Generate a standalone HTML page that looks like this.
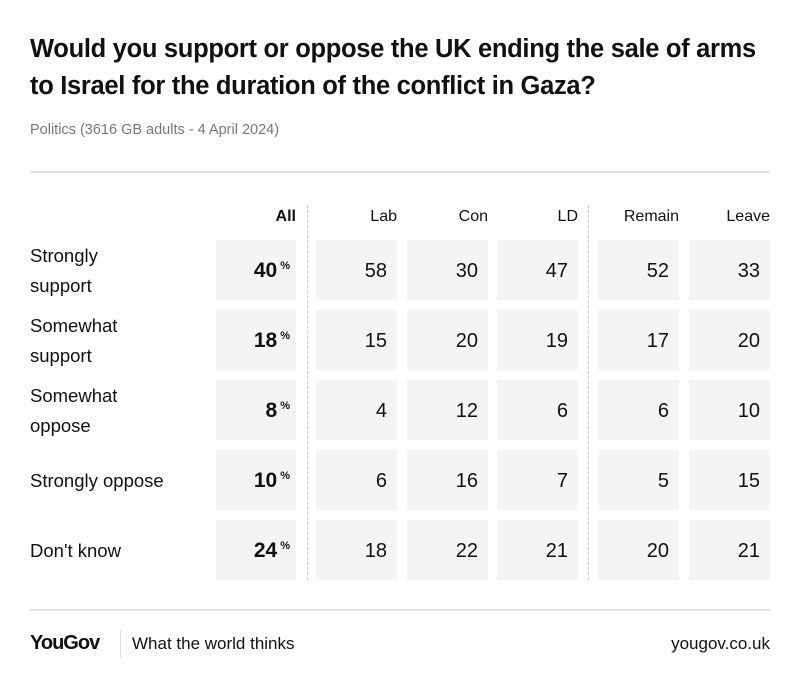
<!DOCTYPE html>
<html><head><meta charset="utf-8"><style>
body{margin:0;width:800px;height:690px;background:#fff;font-family:"Liberation Sans",sans-serif;color:#111;position:relative;overflow:hidden}
.a{position:absolute}
.title{left:30px;top:31px;font-size:25.5px;font-weight:bold;line-height:37px;letter-spacing:-0.3px;white-space:nowrap}
.sub{left:30px;top:122px;font-size:14.5px;color:#777}
.hl{height:2px;background:#e3e3e3;left:30px;width:740px}
.cell{background:#f4f4f5;height:60px;width:81px}
.num{font-size:20px;text-align:right;line-height:62px;padding-right:10px;box-sizing:border-box}
.hd{font-size:16px;text-align:right;width:81px;top:208px}
.lbl{left:30px;font-size:18.5px;line-height:30px}
.dot{top:205px;height:375px;border-left:1.5px dashed #ccc;width:0}
.all{font-weight:bold;font-size:21px;padding-right:6px}
.all sup{font-size:11px;position:relative;top:-8px;vertical-align:baseline;line-height:0;margin-left:3px}
</style></head><body>
<div class="a title">Would you support or oppose the UK ending the sale of arms<br>to Israel for the duration of the conflict in Gaza?</div>
<div class="a sub">Politics (3616 GB adults - 4 April 2024)</div>
<div class="a hl" style="top:171px"></div>
<div class="a dot" style="left:307px"></div>
<div class="a dot" style="left:588px"></div>
<div class="a hd" style="left:216px;font-weight:bold;width:80px">All</div>
<div class="a hd" style="left:316px">Lab</div>
<div class="a hd" style="left:407px">Con</div>
<div class="a hd" style="left:497px">LD</div>
<div class="a hd" style="left:598px">Remain</div>
<div class="a hd" style="left:689px">Leave</div>
<div id="rows"></div>
<div class="a hl" style="top:609px"></div>
<div class="a" style="left:30px;top:632px;font-size:20px;font-weight:bold;letter-spacing:-1px">YouGov</div>
<div class="a" style="left:120px;top:630px;height:28px;border-left:1px solid #ddd"></div>
<div class="a" style="left:132px;top:634px;font-size:17px">What the world thinks</div>
<div class="a" style="right:30px;top:634px;font-size:17px">yougov.co.uk</div>
<script>
var d=[["Strongly<br>support",40,58,30,47,52,33],["Somewhat<br>support",18,15,20,19,17,20],["Somewhat<br>oppose",8,4,12,6,6,10],["Strongly oppose",10,6,16,7,5,15],["Don't know",24,18,22,21,20,21]];
var xs=[316,407,497,598,689],h="";
d.forEach(function(r,i){var y=240+i*70;
h+='<div class="a lbl" style="top:'+(r[0].indexOf("<br>")>0?y+1:y+16)+'px">'+r[0]+'</div>';
h+='<div class="a cell num all" style="left:216px;top:'+y+'px;width:80px">'+r[1]+'<sup>%</sup></div>';
for(var j=0;j<5;j++)h+='<div class="a cell num" style="left:'+xs[j]+'px;top:'+y+'px">'+r[j+2]+'</div>';});
document.getElementById("rows").innerHTML=h;
</script>
</body></html>
